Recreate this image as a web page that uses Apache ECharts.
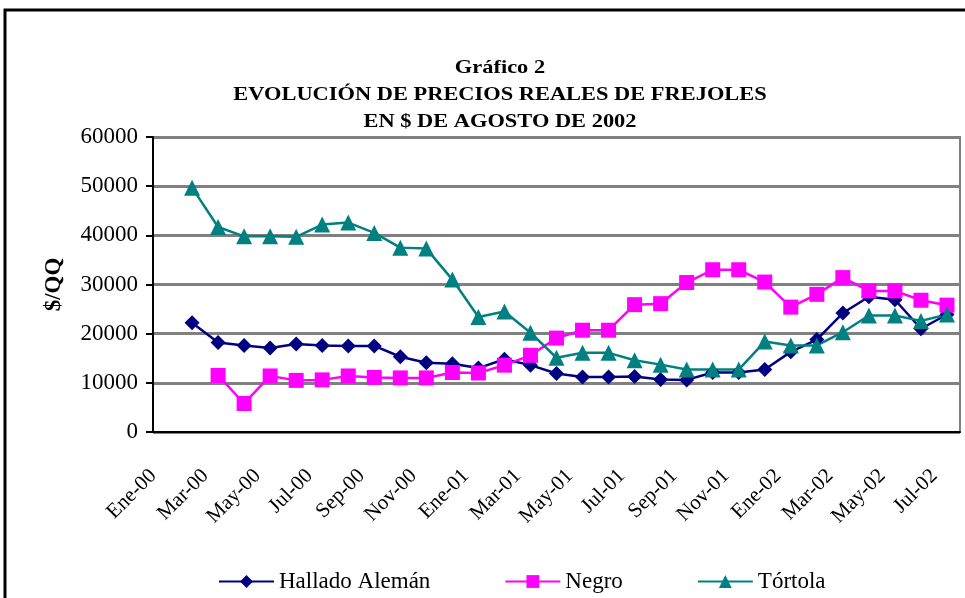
<!DOCTYPE html>
<html>
<head>
<meta charset="utf-8">
<script src="https://cdn.jsdelivr.net/npm/echarts@6/dist/echarts.min.js"></script>
<style>
  html, body { margin: 0; padding: 0; background: #fff; }
  #chart { width: 965px; height: 598px; }
</style>
</head>
<body>
<div id="chart"></div>
<script>
// meses Ene-00 .. Jul-02
const months = [
  'Ene-00','Feb-00','Mar-00','Abr-00','May-00','Jun-00','Jul-00','Ago-00','Sep-00','Oct-00','Nov-00','Dic-00',
  'Ene-01','Feb-01','Mar-01','Abr-01','May-01','Jun-01','Jul-01','Ago-01','Sep-01','Oct-01','Nov-01','Dic-01',
  'Ene-02','Feb-02','Mar-02','Abr-02','May-02','Jun-02','Jul-02'
];
const hallado = [null, 22200, 18200, 17600, 17100, 17900, 17600, 17500, 17500, 15300, 14100, 13900,
  13000, 14800, 13600, 11900, 11200, 11200, 11300, 10700, 10600, 12100, 12100, 12700,
  16300, 18800, 24200, 27500, 26900, 21000, 23900];
const negro = [null, null, 11500, 5800, 11400, 10500, 10600, 11400, 11100, 11000, 11000, 12100,
  12000, 13600, 15600, 19100, 20700, 20700, 25900, 26100, 30400, 33000, 33000, 30500,
  25400, 28000, 31400, 28700, 28700, 26800, 25800];
const tortola = [null, 49700, 41700, 39800, 39800, 39700, 42200, 42600, 40500, 37500, 37300, 31000,
  23400, 24500, 20200, 15100, 16100, 16100, 14600, 13700, 12700, 12700, 12700, 18400,
  17600, 17600, 20300, 23700, 23700, 22600, 23900];
const titleLines = ['Gráfico 2', 'EVOLUCIÓN DE PRECIOS REALES DE FREJOLES', 'EN $ DE AGOSTO DE 2002'];

const serif = '"Liberation Serif", "DejaVu Serif", serif';

let myChart = echarts.init(document.getElementById('chart'));

// titulo: texto algo ensanchado como en el original
let titleGraphics = titleLines.map((t, i) => ({
  type: 'text',
  x: 500,
  y: 68 + i * 27,
  scaleX: 1.18,
  silent: true,
  style: {
    text: t, x: 0, y: 0,
    align: 'center', verticalAlign: 'middle',
    font: 'bold 19px ' + serif, fill: '#000'
  }
}));

let option = {
  backgroundColor: '#fff',
  animation: false,
  graphic: [{
    type: 'rect',
    shape: { x: 5, y: 10, width: 1000, height: 700 },
    style: { fill: 'none', stroke: '#000', lineWidth: 3 },
    silent: true
  }].concat(titleGraphics),
  legend: {
    left: 213,
    top: 565,
    itemWidth: 55,
    itemHeight: 16,
    itemGap: 74,
    textStyle: { fontFamily: serif, fontSize: 23, color: '#000' },
    data: ['Hallado Alemán', 'Negro', 'Tórtola']
  },
  grid: {
    left: 153, right: 5, top: 137, bottom: 166,
    show: true, borderColor: '#808080', borderWidth: 2
  },
  xAxis: {
    type: 'category',
    data: months,
    boundaryGap: true,
    axisLine: { lineStyle: { color: '#000', width: 2 } },
    axisTick: { interval: 1, length: 7, lineStyle: { color: '#000', width: 2 } },
    axisLabel: {
      interval: 1, rotate: 45, margin: 28, padding: [0, 18, 0, 0],
      fontFamily: serif, fontSize: 21, color: '#000'
    }
  },
  yAxis: {
    type: 'value',
    min: 0, max: 60000, interval: 10000,
    name: '$/QQ',
    nameLocation: 'middle',
    nameRotate: 90,
    nameGap: 87,
    nameTextStyle: { fontFamily: serif, fontWeight: 'bold', fontSize: 23, color: '#000' },
    axisLine: { show: true, lineStyle: { color: '#000', width: 2 } },
    axisTick: { show: true, length: 7, lineStyle: { color: '#000', width: 2 } },
    axisLabel: { fontFamily: serif, fontSize: 23, color: '#000', margin: 15, formatter: v => String(v) },
    splitLine: { lineStyle: { color: '#808080', width: 3 } }
  },
  series: [
    {
      name: 'Hallado Alemán', type: 'line', data: hallado,
      symbol: 'diamond', symbolSize: 15,
      itemStyle: { color: '#000080' },
      lineStyle: { color: '#000080', width: 2.5 }
    },
    {
      name: 'Negro', type: 'line', data: negro,
      symbol: 'rect', symbolSize: 15,
      itemStyle: { color: '#FF00FF' },
      lineStyle: { color: '#FF00FF', width: 2.5 }
    },
    {
      name: 'Tórtola', type: 'line', data: tortola,
      symbol: 'triangle', symbolSize: 16,
      itemStyle: { color: '#008080' },
      lineStyle: { color: '#008080', width: 2.5 }
    }
  ]
};
myChart.setOption(option, true);
</script>
</body>
</html>
